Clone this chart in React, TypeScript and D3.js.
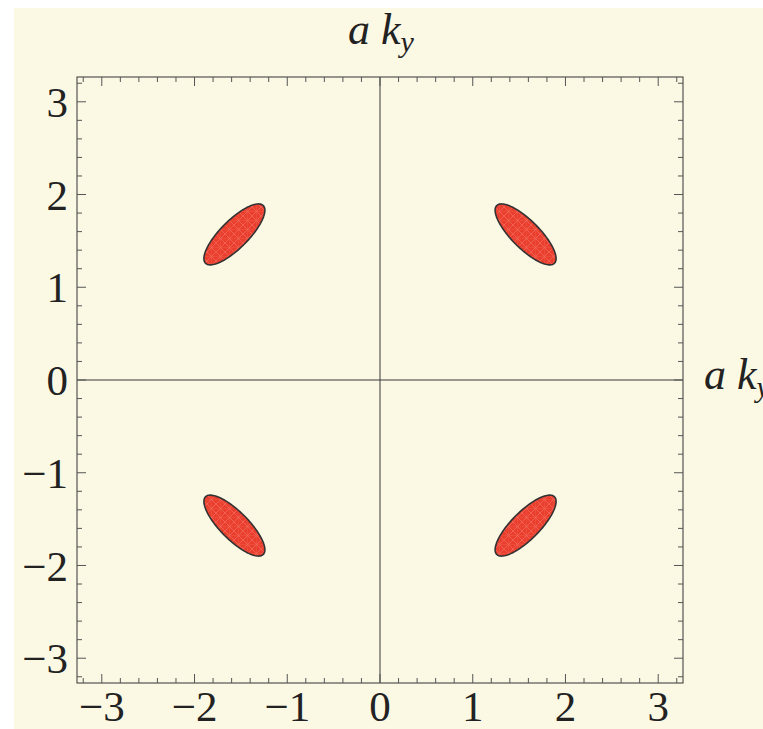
import React from 'react';
import * as d3 from 'd3';

const W = 763;
const H = 729;

// Axis ticks
const majorTicks = [-3, -2, -1, 0, 1, 2, 3];
const tickLabels = ['−3', '−2', '−1', '0', '1', '2', '3'];
const minorTicks = d3
  .range(-16, 17)
  .map((i) => i / 5)
  .filter((v) => Math.abs(v - Math.round(v)) > 1e-9);

// Four elliptical regions in the (a kx, a ky) plane
const regionCx = [-1.57, 1.57, -1.57, 1.57];
const regionCy = [1.57, 1.57, -1.57, -1.57];
const regionAngle = [45, -45, -45, 45];
const regionSemiMajor = [0.44, 0.44, 0.44, 0.44];
const regionSemiMinor = [0.15, 0.15, 0.15, 0.15];

const axisLabel = 'a k';
const axisSub = 'y';

const LIM = Math.PI * 1.04;
const left = 77;
const right = 683;
const top = 77;
const bottom = 683;

const x = d3.scaleLinear().domain([-LIM, LIM]).range([left, right]);
const y = d3.scaleLinear().domain([-LIM, LIM]).range([bottom, top]);

const serif = '"Liberation Serif", "Times New Roman", serif';

function regionPath(i: number): string {
  const a = regionSemiMajor[i];
  const b = regionSemiMinor[i];
  const th = (regionAngle[i] * Math.PI) / 180;
  const pts: [number, number][] = d3.range(0, 120).map((k) => {
    const t = (k / 120) * 2 * Math.PI;
    const dx = a * Math.cos(t) * Math.cos(th) - b * Math.sin(t) * Math.sin(th);
    const dy = a * Math.cos(t) * Math.sin(th) + b * Math.sin(t) * Math.cos(th);
    return [regionCx[i] + dx, regionCy[i] + dy];
  });
  const line = d3
    .line<[number, number]>()
    .x((d) => x(d[0]))
    .y((d) => y(d[1]))
    .curve(d3.curveLinearClosed);
  return line(pts) || '';
}

export default function App() {
  const frameColor = '#555555';
  const majorLen = 9;
  const minorLen = 5;
  return (
    <svg
      width={W}
      height={H}
      viewBox={`0 0 ${W} ${H}`}
      style={{ position: 'absolute', left: 0, top: 0, background: '#ffffff' }}
    >
      <defs>
        <pattern id="mesh" patternUnits="userSpaceOnUse" width="9" height="9">
          <rect width="9" height="9" fill="#ea3e2e" />
          <path d="M0,9 L9,0 M0,0 L9,9" stroke="#f47a68" strokeWidth="0.8" opacity="0.7" />
          <path d="M0,4.5 L9,4.5 M4.5,0 L4.5,9" stroke="#f26a58" strokeWidth="0.6" opacity="0.5" />
        </pattern>
      </defs>
      <rect x={14} y={8} width={W - 14} height={H - 8} fill="#fbf8e3" />

      {/* axes through the origin */}
      <line x1={x(0)} x2={x(0)} y1={top} y2={bottom} stroke="#3a3a3a" strokeWidth={1} />
      <line x1={left} x2={right} y1={y(0)} y2={y(0)} stroke="#3a3a3a" strokeWidth={1} />

      {/* regions */}
      {regionCx.map((_, i) => (
        <path
          key={i}
          d={regionPath(i)}
          fill="url(#mesh)"
          stroke="#333333"
          strokeWidth={1.6}
          strokeLinejoin="round"
        />
      ))}

      {/* frame */}
      <rect
        x={left}
        y={top}
        width={right - left}
        height={bottom - top}
        fill="none"
        stroke={frameColor}
        strokeWidth={1.2}
      />

      {/* ticks on all four frame edges, pointing inward */}
      <g stroke={frameColor} strokeWidth={1}>
        {majorTicks.map((v) => (
          <g key={'M' + v}>
            <line x1={x(v)} x2={x(v)} y1={bottom} y2={bottom - majorLen} />
            <line x1={x(v)} x2={x(v)} y1={top} y2={top + majorLen} />
            <line x1={left} x2={left + majorLen} y1={y(v)} y2={y(v)} />
            <line x1={right} x2={right - majorLen} y1={y(v)} y2={y(v)} />
          </g>
        ))}
        {minorTicks.map((v) => (
          <g key={'m' + v}>
            <line x1={x(v)} x2={x(v)} y1={bottom} y2={bottom - minorLen} />
            <line x1={x(v)} x2={x(v)} y1={top} y2={top + minorLen} />
            <line x1={left} x2={left + minorLen} y1={y(v)} y2={y(v)} />
            <line x1={right} x2={right - minorLen} y1={y(v)} y2={y(v)} />
          </g>
        ))}
      </g>

      {/* tick labels */}
      <g fontFamily={serif} fontSize={43} fill="#222222">
        {majorTicks.map((v, i) => (
          <text key={'bx' + v} x={x(v)} y={721} textAnchor="middle">
            {tickLabels[i]}
          </text>
        ))}
        {majorTicks.map((v, i) => (
          <text key={'ly' + v} x={68} y={y(v)} dy="0.35em" textAnchor="end">
            {tickLabels[i]}
          </text>
        ))}
      </g>

      {/* axis labels */}
      <text x={381} y={44} fontFamily={serif} fontStyle="italic" fontSize={44} fill="#222222" textAnchor="middle">
        {axisLabel}
        <tspan fontSize={30} dy={8}>
          {axisSub}
        </tspan>
      </text>
      <text x={704} y={389} fontFamily={serif} fontStyle="italic" fontSize={44} fill="#222222">
        {axisLabel}
        <tspan fontSize={30} dy={8}>
          {axisSub}
        </tspan>
      </text>
    </svg>
  );
}
